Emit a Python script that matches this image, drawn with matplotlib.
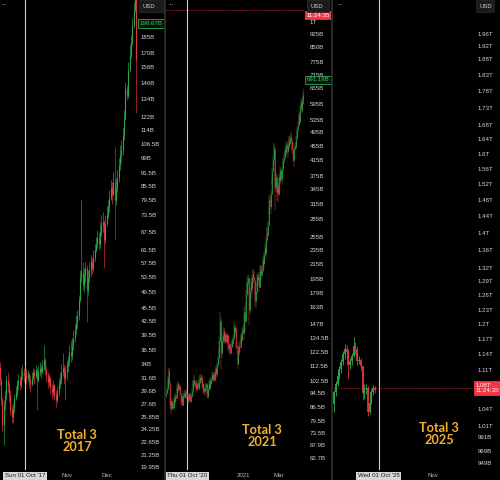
import numpy as np
import pandas as pd
import matplotlib
matplotlib.use("Agg")
import matplotlib.pyplot as plt
import matplotlib.dates as mdates
from matplotlib.ticker import NullLocator
from matplotlib.patches import Rectangle
from matplotlib.lines import Line2D

# ---------------------------------------------------------------- data
# Total 3 market cap, daily candles, billions of USD (open = previous close)
start_2017 = "2017-09-12"
open_2017 = 33.5
close_2017 = [31.3, 28.2, 24.8, 27.5, 29.0, 31.3, 30.5, 29.0, 26.8, 25.8,
              27.1, 28.5, 29.4, 30.5, 31.3, 30.5, 31.9, 32.7, 32.1, 32.8,
              31.6, 32.3, 31.3, 30.6, 31.6, 32.7, 31.9, 33.0, 31.3, 32.7,
              33.3, 32.7, 33.6, 34.7, 33.0, 32.1, 31.0, 31.6, 30.0, 29.4,
              30.5, 29.0, 28.2, 29.4, 30.6, 31.3, 32.7, 33.3, 31.6, 32.7,
              33.8, 34.4, 36.2, 35.4, 37.5, 38.9, 40.6, 42.3, 43.6, 47.4,
              53.1, 54.4, 51.2, 53.9, 55.9, 49.9, 53.1, 55.3, 57.7, 55.9,
              58.9, 61.4, 63.3, 65.3, 63.3, 67.4, 69.8, 71.0, 64.6, 70.3,
              73.6, 77.1, 80.3, 84.6, 81.9, 87.3, 79.5, 84.6, 89.1, 95.3,
              100.4, 103.0, 111.3, 121.6, 142.1, 136.3, 156.0, 168.6, 180.3, 197.0,
              212.8, 230.0, 164.2]
high_2017 = [34.4, 31.6, 28.5, 28.2, 29.7, 32.1, 32.7, 31.0, 29.7, 27.5,
             27.8, 29.1, 30.3, 31.3, 32.3, 31.9, 33.3, 33.8, 33.3, 33.6,
             33.3, 33.0, 32.7, 32.1, 32.7, 33.3, 33.1, 33.8, 33.3, 33.6,
             34.4, 34.0, 34.7, 37.5, 35.1, 33.6, 32.7, 32.3, 31.9, 30.6,
             31.3, 30.6, 29.7, 30.3, 31.6, 32.7, 34.0, 36.0, 34.0, 33.6,
             34.7, 35.4, 37.5, 38.5, 38.9, 40.6, 41.9, 43.9, 45.0, 48.6,
             55.3, 79.5, 57.7, 55.9, 57.7, 56.8, 55.3, 57.7, 59.8, 58.9,
             61.4, 63.3, 65.7, 68.1, 67.4, 71.0, 73.6, 74.7, 71.7, 73.6,
             77.1, 79.5, 83.7, 88.2, 87.3, 92.0, 104.6, 89.1, 92.9, 98.8,
             105.6, 108.5, 115.5, 126.8, 146.6, 144.2, 162.5, 177.5, 186.9, 204.1,
             221.7, 242.2, 236.0]
low_2017 = [30.5, 27.5, 24.0, 22.4, 26.8, 28.2, 29.4, 27.9, 26.1, 25.1,
            25.2, 26.5, 28.2, 28.8, 29.7, 29.7, 30.0, 31.3, 31.0, 31.6,
            30.6, 31.0, 30.0, 29.4, 30.3, 31.3, 30.6, 31.6, 26.8, 31.0,
            31.9, 31.6, 32.3, 33.0, 32.1, 31.0, 30.0, 30.3, 29.1, 28.5,
            28.8, 28.2, 27.2, 27.9, 28.8, 30.0, 30.6, 31.9, 30.6, 28.2,
            31.3, 32.7, 33.6, 34.4, 34.7, 36.6, 38.1, 39.8, 41.0, 42.7,
            46.9, 52.0, 49.9, 49.4, 52.0, 42.3, 48.6, 52.0, 53.6, 54.2,
            55.0, 57.7, 60.7, 62.0, 61.4, 62.0, 66.0, 67.4, 55.9, 63.3,
            69.5, 72.4, 74.7, 79.5, 77.9, 81.1, 64.6, 77.5, 82.8, 87.3,
            92.9, 96.8, 100.4, 108.5, 120.4, 133.5, 134.9, 154.4, 165.9, 177.5,
            193.8, 210.6, 124.8]

start_2021 = "2020-08-28"
open_2021 = 93
close_2021 = [95, 97, 100, 104, 109, 101, 88, 90, 86, 89,
              88, 86, 89, 91, 90, 93, 92, 96, 98, 100,
              97, 99, 98, 95, 90, 92, 88, 92, 93, 94,
              93, 95, 94, 95, 93, 90, 91, 93, 94, 90,
              91, 93, 96, 99, 100, 103, 101, 100, 101, 97,
              98, 100, 101, 98, 101, 104, 103, 105, 103, 99,
              100, 96, 97, 96, 98, 100, 96, 94, 93, 97,
              101, 98, 102, 101, 103, 106, 104, 107, 104, 103,
              108, 110, 107, 109, 113, 118, 122, 132, 150, 140,
              122, 126, 132, 136, 140, 132, 134, 138, 131, 134,
              137, 133, 126, 129, 126, 122, 127, 131, 130, 132,
              134, 144, 141, 143, 138, 128, 126, 114, 122, 125,
              128, 127, 135, 133, 136, 140, 142, 139, 158, 150,
              165, 178, 186, 190, 196, 184, 160, 168, 180, 192,
              184, 196, 202, 198, 194, 190, 170, 180, 186, 198,
              195, 198, 186, 200, 206, 210, 200, 206, 214, 222,
              216, 228, 238, 232, 250, 262, 258, 276, 300, 322,
              318, 310, 336, 362, 388, 415, 440, 446, 392, 350,
              372, 345, 340, 352, 335, 372, 366, 390, 368, 380,
              392, 405, 412, 425, 430, 442, 436, 458, 450, 440,
              455, 470, 462, 476, 482, 470, 452, 445, 420, 415,
              446, 455, 452, 478, 492, 505, 520, 548, 530, 555,
              582, 600, 570, 598, 612, 630, 655, 676, 691]
high_2021 = [97, 99, 102, 106, 111, 110, 102, 92, 91, 90,
             90, 90, 90, 93, 92, 95, 94, 98, 100, 102,
             101, 101, 100, 99, 96, 93, 93, 93, 95, 96,
             95, 97, 96, 96, 97, 94, 93, 94, 95, 95,
             92, 95, 98, 102, 103, 107, 105, 102, 103, 102,
             100, 101, 103, 102, 104, 106, 106, 107, 106, 104,
             102, 101, 99, 98, 100, 101, 101, 97, 96, 99,
             103, 103, 104, 104, 105, 108, 107, 109, 108, 106,
             110, 112, 113, 111, 115, 120, 125, 135, 158, 152,
             142, 130, 135, 139, 143, 144, 137, 140, 139, 136,
             139, 138, 135, 131, 130, 127, 129, 133, 133, 134,
             137, 150, 146, 146, 144, 140, 131, 128, 124, 128,
             131, 133, 138, 137, 139, 143, 146, 145, 162, 165,
             168, 182, 192, 198, 200, 200, 186, 176, 184, 196,
             196, 200, 208, 206, 206, 196, 192, 184, 190, 202,
             204, 201, 200, 204, 214, 214, 212, 212, 218, 226,
             228, 232, 244, 246, 256, 270, 272, 282, 306, 330,
             334, 325, 342, 370, 396, 428, 464, 458, 452, 395,
             385, 380, 356, 362, 356, 378, 380, 400, 396, 386,
             398, 412, 420, 432, 440, 450, 452, 465, 470, 460,
             462, 478, 485, 484, 495, 490, 478, 462, 466, 432,
             452, 462, 462, 485, 500, 512, 528, 556, 560, 562,
             590, 612, 615, 605, 622, 645, 662, 690, 720]
low_2021 = [93, 94, 96, 99, 103, 99, 86, 85, 83, 85,
            85, 85, 86, 88, 88, 89, 90, 91, 95, 96,
            95, 96, 96, 93, 88, 89, 87, 87, 90, 92,
            91, 92, 92, 92, 91, 88, 89, 90, 92, 89,
            89, 90, 92, 95, 98, 99, 99, 98, 98, 95,
            96, 97, 98, 96, 97, 100, 101, 102, 101, 97,
            97, 94, 94, 93, 95, 97, 95, 92, 91, 92,
            96, 96, 97, 99, 100, 102, 102, 103, 102, 101,
            102, 106, 104, 105, 108, 112, 114, 120, 130, 136,
            110, 118, 124, 130, 134, 129, 130, 132, 129, 130,
            132, 131, 124, 122, 124, 120, 121, 126, 128, 128,
            129, 133, 137, 139, 135, 125, 122, 110, 113, 120,
            123, 124, 126, 129, 131, 134, 138, 133, 138, 140,
            148, 162, 174, 176, 186, 176, 146, 156, 162, 178,
            172, 182, 192, 190, 190, 176, 165, 162, 178, 184,
            190, 188, 180, 184, 196, 202, 194, 198, 204, 210,
            208, 214, 226, 222, 228, 246, 250, 256, 274, 296,
            308, 295, 305, 332, 358, 385, 405, 428, 345, 303,
            340, 338, 320, 335, 318, 330, 356, 362, 360, 355,
            374, 385, 395, 406, 415, 420, 424, 430, 440, 420,
            432, 445, 450, 455, 468, 460, 440, 432, 410, 398,
            412, 440, 442, 448, 472, 482, 500, 515, 520, 525,
            548, 575, 556, 565, 590, 605, 620, 648, 665]

start_2025 = "2025-09-06"
open_2025 = 1048
close_2025 = [1070, 1085, 1100, 1112, 1126, 1140, 1150, 1145, 1120, 1128, 1138, 1156,
              1150, 1128, 1130, 1118, 1068, 1075, 1078, 1035, 1050, 1070, 1078, 1074]
high_2025 = [1074, 1090, 1108, 1118, 1132, 1146, 1160, 1158, 1150, 1134, 1142, 1175,
             1165, 1156, 1138, 1134, 1118, 1084, 1085, 1080, 1056, 1076, 1082, 1080]
low_2025 = [1035, 1062, 1080, 1094, 1105, 1120, 1132, 1134, 1095, 1112, 1120, 1135,
            1140, 1120, 1122, 1110, 1055, 1058, 1066, 1028, 1030, 1048, 1064, 1068]

# price-scale ticks (billions)
ticks_2017 = [185, 170, 158, 146, 134, 122, 114, 106.5, 99, 91.5, 85.5, 79.5, 73.5,
              67.5, 61.5, 57.5, 53.5, 49.5, 45.5, 42.5, 39.5, 36.5, 34, 31.6, 29.6,
              27.6, 25.85, 24.25, 22.65, 21.25, 19.95]
ticklabels_2017 = ["185B", "170B", "158B", "146B", "134B", "122B", "114B", "106.5B", "99B",
                   "91.5B", "85.5B", "79.5B", "73.5B", "67.5B", "61.5B", "57.5B", "53.5B",
                   "49.5B", "45.5B", "42.5B", "39.5B", "36.5B", "34B", "31.6B", "29.6B",
                   "27.6B", "25.85B", "24.25B", "22.65B", "21.25B", "19.95B"]
ticks_2021 = [1000, 925, 850, 775, 715, 655, 595, 535, 495, 455, 415, 375, 345, 315, 285,
              255, 235, 215, 195, 179, 163, 147, 134.5, 122.5, 112.5, 102.5, 94.5, 86.5,
              79.5, 73.5, 67.9, 62.7]
ticklabels_2021 = ["1T", "925B", "850B", "775B", "715B", "655B", "595B", "535B", "495B",
                   "455B", "415B", "375B", "345B", "315B", "285B", "255B", "235B", "215B",
                   "195B", "179B", "163B", "147B", "134.5B", "122.5B", "112.5B", "102.5B",
                   "94.5B", "86.5B", "79.5B", "73.5B", "67.9B", "62.7B"]
ticks_2025 = [1960, 1920, 1880, 1830, 1780, 1730, 1680, 1640, 1600, 1560, 1520, 1480,
              1440, 1400, 1360, 1320, 1290, 1260, 1230, 1200, 1170, 1140, 1110,
              1040, 1010, 991, 969, 949]
ticklabels_2025 = ["1.96T", "1.92T", "1.88T", "1.83T", "1.78T", "1.73T", "1.68T", "1.64T",
                   "1.6T", "1.56T", "1.52T", "1.48T", "1.44T", "1.4T", "1.36T", "1.32T",
                   "1.29T", "1.26T", "1.23T", "1.2T", "1.17T", "1.14T", "1.11T",
                   "1.04T", "1.01T", "991B", "969B", "949B"]

last_2017, last_2017_label = 198.67, "198.67B"
last_2021, last_2021_label = 691.19, "691.19B"
live_price, live_label, countdown = 1077, "1.08T\n11:24:35", "11:24:35"

month_2017, month_labels_2017 = ["2017-11-01", "2017-12-01"], ["Nov", "Dec"]
month_2021, month_labels_2021 = ["2021-01-01", "2021-03-01"], ["2021", "Mar"]
month_2025, month_labels_2025 = ["2025-11-01"], ["Nov"]
cursor_2017, cursor_label_2017 = "2017-10-01", "Sun 01 Oct '17"
cursor_2021, cursor_label_2021 = "2020-10-01", "Thu 01 Oct '20"
cursor_2025, cursor_label_2025 = "2025-10-01", "Wed 01 Oct '25"
titles = ["Total 3\n2017", "Total 3\n2021", "Total 3\n2025"]

# ---------------------------------------------------------------- style
W, H = 500, 480
UP, DOWN = "#2aa84a", "#e0343f"
LABEL_C = "#d1d4dc"
GOLD = "#f3b12b"
NARROW = ["Liberation Sans Narrow", "Liberation Sans", "DejaVu Sans"]

fig = plt.figure(figsize=(5, 4.8), dpi=100)
fig.patch.set_facecolor("black")


def d2n(s):
    return mdates.date2num(pd.Timestamp(s))


def candles(ax, start, first_open, closes, highs, lows, body_w, wick_w):
    x = mdates.date2num(pd.date_range(start, periods=len(closes), freq="D"))
    c = np.asarray(closes, float)
    o = np.concatenate([[first_open], c[:-1]])
    h = np.asarray(highs, float)
    l = np.asarray(lows, float)
    col = [UP if ci >= oi else DOWN for ci, oi in zip(c, o)]
    ax.vlines(x, l, h, colors=col, linewidth=wick_w, zorder=3)
    ax.vlines(x, np.minimum(o, c), np.maximum(o, c), colors=col,
              linewidth=body_w, zorder=4)


def panel(x0, x1, cursor, left_days, right_days, ylim, ticks, labels, pad):
    ax = fig.add_axes([x0 / W, 1 - 470 / H, (x1 - x0) / W, 470 / H])
    ax.set_facecolor("black")
    for s in ax.spines.values():
        s.set_visible(False)
    ax.set_yscale("log")
    c = d2n(cursor)
    ax.set_xlim(c - left_days, c + right_days)
    ax.set_ylim(*ylim)
    ax.set_yticks(ticks, labels)
    ax.yaxis.set_minor_locator(NullLocator())
    ax.yaxis.tick_right()
    ax.tick_params(axis="y", which="both", length=0, pad=pad, labelsize=4.4,
                   labelcolor=LABEL_C, labelfontfamily=NARROW)
    ax.tick_params(axis="x", which="both", length=0, pad=2.2, labelsize=4.4,
                   labelcolor="#b2b5be", labelfontfamily=NARROW)
    ax.axvline(c, color="#d0d0d0", lw=0.8, zorder=2)
    return ax


def date_box(ax, cursor, text):
    ax.annotate(text, xy=(d2n(cursor), 0), xycoords=("data", "axes fraction"),
                xytext=(0, -4.3), textcoords="offset points", ha="center", va="center",
                fontsize=4.4, family=NARROW, color="#131722", annotation_clip=False,
                bbox=dict(boxstyle="square,pad=0.3", fc="#d6d6d6", ec="none"), zorder=10)


def value_box(ax, value, text, fc, ec, tc, dx=1.0, dy=0.0):
    ax.annotate(text, xy=(1, value), xycoords=ax.get_yaxis_transform(),
                xytext=(dx, dy), textcoords="offset points", ha="left", va="center",
                fontsize=4.4, family=NARROW, color=tc, annotation_clip=False,
                linespacing=1.15,
                bbox=dict(boxstyle="square,pad=0.3", fc=fc, ec=ec, lw=0.6), zorder=10)


# ---- panel 2017
ax1 = panel(0, 138, cursor_2017, 18.66, 84.33, (19.64, 224.1), ticks_2017, ticklabels_2017, 2.2)
candles(ax1, start_2017, open_2017, close_2017, high_2017, low_2017, 0.8, 0.45)
ax1.set_xticks([d2n(m) for m in month_2017], month_labels_2017)
date_box(ax1, cursor_2017, cursor_label_2017)
value_box(ax1, last_2017, last_2017_label, "#07170c", "#2fa84f", "#3cc463")

# ---- panel 2021
ax2 = panel(166, 304, cursor_2021, 34.48, 191.9, (58.1, 1147.8), ticks_2021, ticklabels_2021, 4.0)
candles(ax2, start_2021, open_2021, close_2021, high_2021, low_2021, 0.55, 0.35)
ax2.set_xticks([d2n(m) for m in month_2021], month_labels_2021)
date_box(ax2, cursor_2021, cursor_label_2021)
ax2.axhline(live_price, color="#8a1e26", lw=0.7, ls=(0, (1.5, 1)), zorder=1)
value_box(ax2, last_2021, last_2021_label, "#07170c", "#2fa84f", "#3cc463", dx=2.0)
value_box(ax2, live_price, countdown, "#f23645", "#f23645", "white", dx=2.0, dy=-3.6)

# ---- panel 2025
ax3 = panel(333, 475, cursor_2025, 25.65, 54.4, (937.7, 2076), ticks_2025, ticklabels_2025, 2.2)
candles(ax3, start_2025, open_2025, close_2025, high_2025, low_2025, 1.3, 0.6)
ax3.set_xticks([d2n(m) for m in month_2025], month_labels_2025)
date_box(ax3, cursor_2025, cursor_label_2025)
ax3.axhline(live_price, color="#b3262f", lw=0.6, ls=(0, (1.5, 1.5)), zorder=1)
value_box(ax3, live_price, live_label, "#f23645", "#f23645", "white", dx=0.3)

# ---- titles
title_pos = [(77, 441), (262, 436), (439, 434)]
for t, (tx, ty) in zip(titles, title_pos):
    fig.text(tx / W, 1 - ty / H, t, ha="center", va="center", fontsize=9.2,
             fontweight="bold", color=GOLD, family=["Lato", "DejaVu Sans"], linespacing=1.0)

# ---- panel separators
for xs in (164.5, 331.5):
    fig.add_artist(Line2D([xs / W, xs / W], [0, 1], color="#2b2b2b", lw=1.4))

# ---- toolbar: "..." and USD boxes
for xd in (2, 169, 338):
    fig.text(xd / W, 1 - 6 / H, "\u2022\u2022\u2022", fontsize=2.2, color="#9598a1",
             va="center", ha="left")
for (bx0, bx1) in ((138.5, 162.5), (306.5, 328.5), (476, 494)):
    fig.add_artist(Rectangle((bx0 / W, 1 - 11.5 / H), (bx1 - bx0) / W, 11 / H,
                             transform=fig.transFigure, fc="#1b1b1b", ec="#2c2c2c",
                             lw=0.5, zorder=20))
    fig.text((bx0 + 4) / W, 1 - 6 / H, "USD", fontsize=4.2, color=LABEL_C,
             family=NARROW, va="center", ha="left", zorder=21)

fig.savefig("out.png", dpi=100, facecolor="black")
